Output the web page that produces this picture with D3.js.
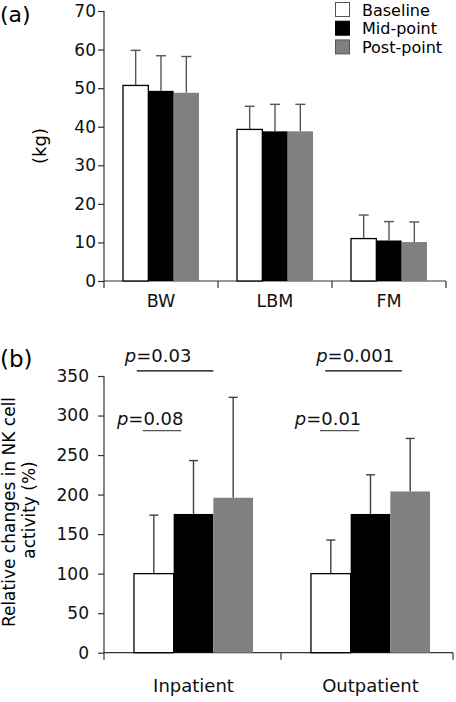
<!DOCTYPE html>
<html><head><meta charset="utf-8">
<script src="https://cdn.jsdelivr.net/npm/d3@7"></script>
<style>
html,body{margin:0;padding:0;background:#fff;}
svg{display:block;font-family:"DejaVu Sans",Verdana,sans-serif;}
</style></head>
<body>
<svg id="chart" width="456" height="702"></svg>
<script>
// ---------- DATA ----------
const series = ["Baseline", "Mid-point", "Post-point"];
const seriesColors = ["#ffffff", "#000000", "#808080"];

// Panel (a): body composition (kg)
const catsA = ["BW", "LBM", "FM"];
const meanA = [ // rows: category, cols: series
  [50.7, 49.3, 48.8],
  [39.3, 38.8, 38.8],
  [11.0, 10.5, 10.1]
];
const sdA = [
  [9.1, 9.1, 9.4],
  [6.0, 7.0, 7.0],
  [6.1, 4.9, 5.2]
];
const ticksA = [0, 10, 20, 30, 40, 50, 60, 70];

// Panel (b): relative change in NK cell activity (%)
const catsB = ["Inpatient", "Outpatient"];
const meanB = [
  [100, 175.5, 196],
  [100, 175.5, 204]
];
const sdB = [
  [74, 67.5, 127],
  [42.5, 49.5, 67]
];
const ticksB = [0, 50, 100, 150, 200, 250, 300, 350];

// significance annotations (p values)
const pGroups = ["Inpatient", "Inpatient", "Outpatient", "Outpatient"];
const pLabels = ["0.08", "0.03", "0.01", "0.001"];
const pLineY = [281, 356.5, 281, 356.5];   // data units of panel (b)

// ---------- DRAW ----------
const svg = d3.select("#chart");
const FONT = '"DejaVu Sans",Verdana,sans-serif';
const axisCol = "#333";

function panel(cfg) {
  const g = svg.append("g");
  const y = d3.scaleLinear().domain(cfg.yDomain).range(cfg.yRange);
  const x = d3.scaleBand().domain(cfg.cats).range(cfg.xRange).padding(0);
  const xi = d3.scaleBand().domain(series).range([0, x.bandwidth()])
    .paddingInner(0).paddingOuter(cfg.outerPad);

  // y axis
  const yAx = g.append("g").attr("transform", `translate(${cfg.xRange[0]},0)`)
    .call(d3.axisLeft(y).tickValues(cfg.ticks).tickSize(6).tickPadding(cfg.tickPad).tickSizeOuter(0));
  yAx.select(".domain").remove();
  yAx.selectAll(".tick line").attr("stroke", axisCol).attr("stroke-width", 1.2);
  yAx.selectAll("text").attr("font-family", FONT).attr("font-size", cfg.tickFont).attr("fill", "#111");
  g.append("line").attr("x1", cfg.xRange[0]).attr("x2", cfg.xRange[0])
    .attr("y1", y(cfg.yDomain[1])).attr("y2", y(0) + 7)
    .attr("stroke", axisCol).attr("stroke-width", 1.2);

  // x axis
  const y0 = y(0);
  g.append("line").attr("x1", cfg.xRange[0]).attr("x2", cfg.xEnd)
    .attr("y1", y0).attr("y2", y0).attr("stroke", axisCol).attr("stroke-width", 1.2);
  const bounds = cfg.cats.slice(1).map(c => x(c)).concat([cfg.xEnd]);
  g.selectAll("line.xt").data(bounds).enter().append("line")
    .attr("x1", d => d).attr("x2", d => d).attr("y1", y0).attr("y2", y0 + 7)
    .attr("stroke", axisCol).attr("stroke-width", 1.2);
  g.selectAll("text.cat").data(cfg.cats).enter().append("text")
    .attr("x", d => x(d) + x.bandwidth() / 2 + cfg.catShift)
    .attr("y", cfg.catY).attr("text-anchor", "middle")
    .attr("font-family", FONT).attr("font-size", cfg.catFont).attr("fill", "#111")
    .text(d => d);

  // bars + error bars
  const data = [];
  cfg.cats.forEach((c, i) => series.forEach((s, j) => data.push({c, s, j, m: cfg.mean[i][j], e: cfg.sd[i][j]})));
  const bx = d => x(d.c) + xi(d.s) + cfg.catShift;
  const bw = xi.bandwidth();
  g.selectAll("line.err").data(data).enter().append("line")
    .attr("x1", d => bx(d) + bw / 2).attr("x2", d => bx(d) + bw / 2)
    .attr("y1", d => y(d.m)).attr("y2", d => y(d.m + d.e))
    .attr("stroke", cfg.errCol).attr("stroke-width", 1.4);
  g.selectAll("line.cap").data(data).enter().append("line")
    .attr("x1", d => bx(d) + bw / 2 - cfg.cap / 2).attr("x2", d => bx(d) + bw / 2 + cfg.cap / 2)
    .attr("y1", d => y(d.m + d.e)).attr("y2", d => y(d.m + d.e))
    .attr("stroke", cfg.errCol).attr("stroke-width", 1.4);
  g.selectAll("rect.bar").data(data).enter().append("rect")
    .attr("x", d => bx(d)).attr("width", bw)
    .attr("y", d => y(d.m)).attr("height", d => y0 - y(d.m))
    .attr("fill", d => seriesColors[d.j])
    .attr("stroke", d => d.j === 0 ? "#000" : "none").attr("stroke-width", 1.3);

  return {g, x, y, xi, bx};
}

// Panel (a)
const A = panel({
  cats: catsA, mean: meanA, sd: sdA, ticks: ticksA,
  yDomain: [0, 70], yRange: [281, 11], xRange: [104, 446], xEnd: 446,
  outerPad: 0.75, tickFont: 17, tickPad: 2, catFont: 17.5, catY: 307, catShift: 0,
  errCol: "#555", cap: 10
});
// Panel (b)
const B = panel({
  cats: catsB, mean: meanB, sd: sdB, ticks: ticksB,
  yDomain: [0, 350], yRange: [652.7, 376], xRange: [104, 458], xEnd: 453,
  outerPad: 0.73, tickFont: 17, tickPad: 9, catFont: 18, catY: 692, catShift: 1,
  errCol: "#404040", cap: 9
});

// panel labels
svg.append("text").attr("x", 0).attr("y", 22).attr("font-family", FONT).attr("font-size", 22).text("(a)");
svg.append("text").attr("x", 0).attr("y", 367).attr("font-family", FONT).attr("font-size", 23).text("(b)");

// y labels
svg.append("text").attr("transform", "translate(46,146) rotate(-90)").attr("text-anchor", "middle")
  .attr("font-family", FONT).attr("font-size", 18).text("(kg)");
svg.append("text").attr("transform", "translate(15,512) rotate(-90)").attr("text-anchor", "middle")
  .attr("font-family", FONT).attr("font-size", 17).text("Relative changes in NK cell");
svg.append("text").attr("transform", "translate(35,510) rotate(-90)").attr("text-anchor", "middle")
  .attr("font-family", FONT).attr("font-size", 17).text("activity (%)");

// legend
const leg = svg.append("g");
series.forEach((s, i) => {
  leg.append("rect").attr("x", 335.5).attr("y", 2.5 + i * 18.7).attr("width", 14).attr("height", 14)
    .attr("fill", seriesColors[i]).attr("stroke", i === 1 ? "#000" : "#555").attr("stroke-width", 1);
  leg.append("text").attr("x", 362).attr("y", 15.5 + i * 18.7)
    .attr("font-family", FONT).attr("font-size", 16).text(s);
});

// significance annotations (offsets in bar widths from group's first bar)
const pLineFrom = [0.22, 0.07, 0.23, 0.36];
const pLineTo = [1.19, 2.0, 1.21, 2.29];
const pTextFrom = [-0.43, -0.23, -0.41, 0.13];
const pTextUp = [-6, -9, -6, -9];
const pLineCol = ["#555", "#000", "#555", "#000"];
const bwB = B.xi.bandwidth();
pLabels.forEach((lab, i) => {
  const x0 = B.x(pGroups[i]) + B.xi(series[0]) + 1;
  const ly = B.y(pLineY[i]);
  B.g.append("line").attr("x1", x0 + pLineFrom[i] * bwB).attr("x2", x0 + pLineTo[i] * bwB)
    .attr("y1", ly).attr("y2", ly).attr("stroke", pLineCol[i]).attr("stroke-width", 1.3);
  const t = B.g.append("text").attr("x", x0 + pTextFrom[i] * bwB).attr("y", ly + pTextUp[i])
    .attr("font-family", FONT).attr("font-size", 18).attr("fill", "#111");
  t.append("tspan").attr("font-style", "italic").text("p");
  t.append("tspan").text("=" + lab);
});
</script>
</body></html>
